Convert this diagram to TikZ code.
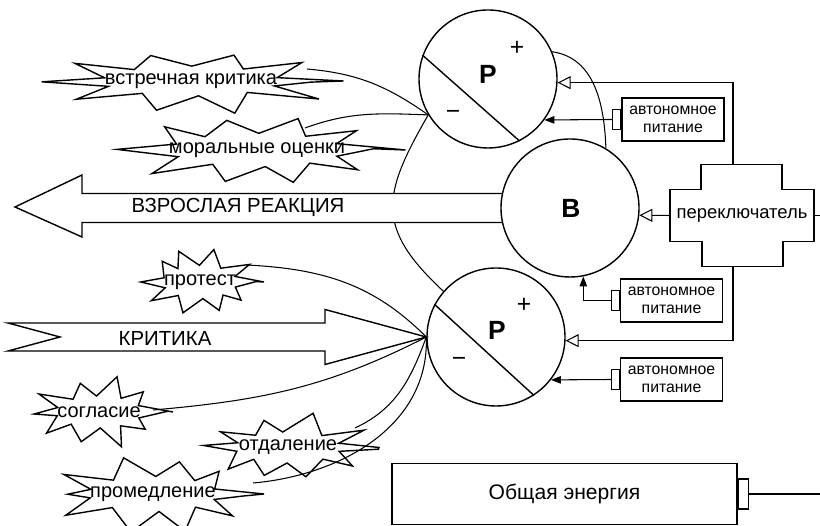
\documentclass[tikz,border=0pt]{standalone}
\usepackage{fontspec}
\setmainfont{Liberation Sans}
\usetikzlibrary{arrows.meta,positioning,calc,backgrounds}

% jagged outline round a label node: #1 node, #2 half width, #3 half height, #4 seed
\newcommand{\jagged}[4]{%
  \pgfmathsetseed{#4}%
  \draw[thick,line join=miter,shift={(#1.center)}] (0:#2 and #3)
    \foreach \a in {0,36,...,324}{
      -- ({\a+18+12*rnd-6}:{0.58*#2} and {0.45*#3})
      -- ({\a+36+8*rnd-4}:{#2*(0.74+0.26*rnd)} and {#3*(0.8+0.25*rnd)})
    } -- cycle;
}

\begin{document}
\begin{tikzpicture}[
  circ/.style={draw,circle,thick,minimum size=2.76cm,inner sep=0pt},
  big/.style={font=\fontsize{15}{15}\selectfont\bfseries},
  sign/.style={font=\fontsize{14}{14}\selectfont},
  burst/.style={inner sep=0pt,font=\fontsize{11.4}{13}\selectfont},
  power/.style={draw,thick,minimum width=2.04cm,minimum height=0.86cm,align=center,inner sep=1pt,font=\fontsize{9}{10.5}\selectfont},
  plug/.style={draw,semithick,minimum width=0.16cm,minimum height=0.4cm,inner sep=0pt},
  feed/.style={-{Triangle[length=2mm,width=1.5mm]},semithick},
  ctrl/.style={-{Triangle[open,length=2.6mm,width=2.6mm]},semithick},
  link/.style={semithick},
  bigarrow/.style={draw,thick,fill=white,line join=miter},
  every node/.style={font=\fontsize{11.6}{13}\selectfont},
]
\useasboundingbox (0,0) rectangle (16.4,10.52);

% circles
\node[circ] (pTop) at (9.76,8.94) {};
\node[circ] (bMid) at (11.40,6.36) {};
\node[circ] (pBot) at (9.92,3.78) {};
\draw[thick] (pTop.160) -- (pTop.-63);
\draw[thick] (pBot.152) -- (pBot.-57);
\node[big] (pTopLbl) at (9.76,9.04) {Р};
\node[sign] (pTopPlus) at (10.34,9.56) {+};
\node[sign] (pTopMinus) at (9.06,8.22) {−};
\node[big] (bMidLbl) at (11.42,6.36) {В};
\node[big] (pBotLbl) at (9.94,3.92) {Р};
\node[sign] (pBotPlus) at (10.48,4.42) {+};
\node[sign] (pBotMinus) at (9.18,3.28) {−};
\draw[link] (pTop.23) to[out=-8,in=92] (bMid.59);

% switch
\node[minimum width=2.86cm,minimum height=1.02cm,inner sep=0pt,font=\fontsize{10.5}{12}\selectfont] (sw) at (14.84,6.21) {переключатель};
\draw[thick] (sw.north west) -- ++(0.62,0) -- ++(0,0.5) -- ++(1.62,0) -- ++(0,-0.5) -- (sw.north east)
  -- (sw.south east) -- ++(-0.62,0) -- ++(0,-0.5) -- ++(-1.62,0) -- ++(0,0.5) -- (sw.south west) -- cycle;
\coordinate (swTop) at ([xshift=-0.18cm,yshift=0.5cm]sw.north);
\coordinate (swBot) at ([xshift=-0.18cm,yshift=-0.5cm]sw.south);
\coordinate (swOut) at (16.4,6.21);
\draw[ctrl] (swTop) |- (pTop.-3);
\draw[ctrl] (sw.west) -- (bMid.-6);
\draw[ctrl] (swBot) |- (pBot.-3);
\draw[link] (sw.east) -- (swOut);

% power
\node[power] (apTop) at (13.46,8.13) {автономное\\питание};
\node[plug,anchor=east] (apTopPlug) at (apTop.west) {};
\draw[feed] (apTopPlug.west) -- (pTop.-36);
\node[power] (apMid) at (13.43,4.51) {автономное\\питание};
\node[plug,anchor=east] (apMidPlug) at (apMid.west) {};
\draw[feed] (apMidPlug.west) -| (bMid.-79);
\node[power] (apBot) at (13.43,2.93) {автономное\\питание};
\node[plug,anchor=east] (apBotPlug) at (apBot.west) {};
\draw[feed] (apBotPlug.west) -- (pBot.-38);

\node[draw,thick,minimum width=6.9cm,minimum height=1.22cm,font=\fontsize{12}{14}\selectfont] (energy) at (11.29,0.64) {Общая энергия};
\node[plug,minimum width=0.2cm,minimum height=0.6cm,anchor=west] (energyPlug) at (energy.east) {};
\coordinate (energyOut) at (16.4,0.64);
\draw[link] (energyPlug.east) -- (energyOut);

% big arrows
\begin{scope}[on background layer]
  \draw[link] (pTop.211) to[out=240,in=137,looseness=1.35] (pBot.139);
  \draw[bigarrow] (bMid.168) -- (1.64,6.65) -- (1.64,7.02) -- (0.30,6.38) -- (1.64,5.78) -- (1.64,6.07) -- (bMid.192);
\end{scope}
\node (adultLbl) at (4.76,6.38) {ВЗРОСЛАЯ РЕАКЦИЯ};
\draw[bigarrow] (pBot.180) -- (6.50,4.33) -- (6.50,4.06) -- (0.16,4.06) -- (1.20,3.78) -- (0.16,3.50) -- (6.50,3.50) -- (6.50,3.23) -- cycle;
\node (critLbl) at (3.30,3.76) {КРИТИКА};

% bursts
\node[burst] (vk) at (3.82,8.90) {встречная критика};
\node[burst] (mo) at (5.14,7.52) {моральные оценки};
\node[burst] (pr) at (4.00,4.88) {протест};
\node[burst] (sg) at (1.98,2.28) {согласие};
\node[burst] (ot) at (5.76,1.57) {отдаление};
\node[burst] (pm) at (3.06,0.64) {промедление};
\jagged{vk}{3.05}{0.66}{3}
\jagged{mo}{2.97}{0.74}{7}
\jagged{pr}{1.28}{0.74}{21}
\jagged{sg}{1.48}{0.71}{33}
\jagged{ot}{1.82}{0.69}{45}
\jagged{pm}{2.22}{0.78}{58}

\draw[link] ($(vk.center)+(2.32,0.24)$) to[out=-5,in=145] (pTop.211);
\draw[link] ($(mo.center)+(0.96,0.44)$) to[out=20,in=178] (pTop.211);
\draw[link] ($(pr.center)+(0.94,0.34)$) to[out=-3,in=135] (pBot.180);
\draw[link] ($(sg.center)+(1.08,0.04)$) to[out=5,in=207] (pBot.180);
\draw[link] ($(ot.center)+(1.34,0.39)$) to[out=25,in=250] (pBot.180);
\draw[link] ($(pm.center)+(2.00,0.22)$) to[out=5,in=272] (pBot.180);
\end{tikzpicture}
\end{document}
